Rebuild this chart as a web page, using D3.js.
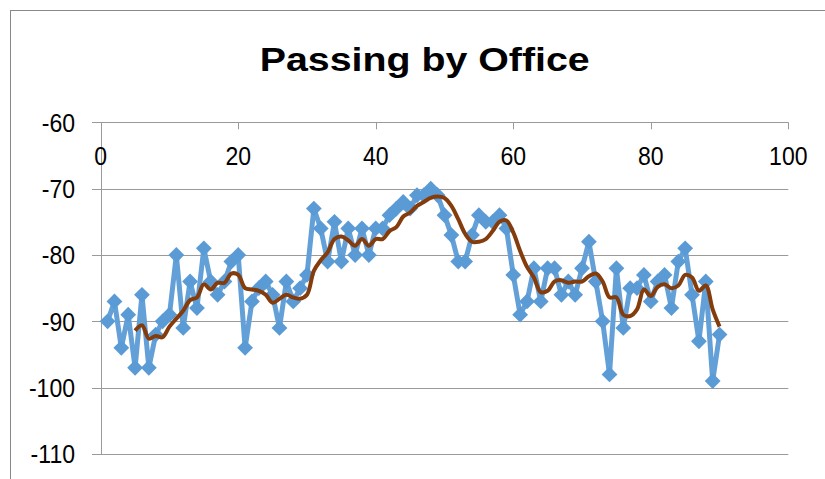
<!DOCTYPE html>
<html><head><meta charset="utf-8">
<script src="https://cdn.jsdelivr.net/npm/d3@7"></script>
<style>body{margin:0;background:#fff}svg{display:block}</style>
</head><body><svg id="c" width="825" height="479"></svg>
<script>
const chartTitle = "Passing by Office";
const officeIndex = [1,2,3,4,5,6,7,8,9,10,11,12,13,14,15,16,17,18,19,20,
  21,22,23,24,25,26,27,28,29,30,31,32,33,34,35,36,37,38,39,40,
  41,42,43,44,45,46,47,48,49,50,51,52,53,54,55,56,57,58,59,60,
  61,62,63,64,65,66,67,68,69,70,71,72,73,74,75,76,77,78,79,80,
  81,82,83,84,85,86,87,88,89,90];
const passingValues = [-90,-87,-94,-89,-97,-86,-97,-92,-90,-89,
  -80,-91,-84,-88,-79,-84,-86,-84,-81,-80,
  -94,-87,-85,-84,-86,-91,-84,-87,-85,-83,
  -73,-76,-81,-75,-81,-76,-80,-76,-80,-76,
  -76,-74,-73,-72,-73,-71,-71,-70,-71,-74,
  -77,-81,-81,-77,-74,-75,-75,-74,-76,-83,
  -89,-87,-82,-87,-82,-82,-86,-84,-86,-82,
  -78,-84,-90,-98,-82,-91,-85,-85,-83,-87,
  -84,-83,-88,-81,-79,-86,-93,-84,-99,-92];
const trendPeriod = 5; // Excel moving-average trendline period
const xTicks = [0,20,40,60,80,100];
const yTicks = [-60,-70,-80,-90,-100,-110];

const svg = d3.select("#c");
const x = d3.scaleLinear().domain([0,100]).range([100.7,788.3]);
const y = d3.scaleLinear().domain([-110,-60]).range([454,122.3]);

// chart border
svg.append("rect").attr("x",10.5).attr("y",10.5).attr("width",900).attr("height",600)
  .attr("fill","#fff").attr("stroke","#898989").attr("stroke-width",1);

// title
svg.append("text").attr("x",424.7).attr("y",71)
  .attr("text-anchor","middle")
  .attr("font-family","Liberation Sans, Arial, sans-serif")
  .attr("font-weight","bold").attr("font-size",34)
  .attr("textLength",330).attr("lengthAdjust","spacingAndGlyphs")
  .attr("fill","#000").text(chartTitle);

const gridColor = "#9a9a9a";
svg.append("g").selectAll("line").data(yTicks).join("line")
  .attr("x1",92).attr("x2",x(100))
  .attr("y1",d=>Math.round(y(d))+0.5).attr("y2",d=>Math.round(y(d))+0.5)
  .attr("stroke",gridColor).attr("stroke-width",1);
svg.append("line").attr("x1",Math.round(x(0))+0.5).attr("x2",Math.round(x(0))+0.5)
  .attr("y1",y(-60)).attr("y2",y(-110)).attr("stroke",gridColor);
svg.append("g").selectAll("line").data(xTicks).join("line")
  .attr("x1",d=>Math.round(x(d))+0.5).attr("x2",d=>Math.round(x(d))+0.5)
  .attr("y1",y(-60)).attr("y2",y(-60)+7)
  .attr("stroke",gridColor);

// y labels (slightly condensed, Calibri-like proportions)
svg.append("g").selectAll("text").data(yTicks).join("text")
  .attr("transform",d=>`translate(75,${y(d)+9.2}) scale(0.94,1.05)`)
  .attr("text-anchor","end")
  .attr("font-family","Liberation Sans, Arial, sans-serif").attr("font-size",24.5)
  .attr("fill","#000").text(d=>d);
// x labels
svg.append("g").selectAll("text").data(xTicks).join("text")
  .attr("transform",d=>`translate(${x(d)},165) scale(0.94,1.05)`)
  .attr("text-anchor","middle")
  .attr("font-family","Liberation Sans, Arial, sans-serif").attr("font-size",24.5)
  .attr("fill","#000").text(d=>d);

const pts = officeIndex.map((o,i)=>({x:o,v:passingValues[i]}));
const blue = "#5b9bd5";
svg.append("path").datum(pts)
  .attr("d",d3.line().x(d=>x(d.x)).y(d=>y(d.v)))
  .attr("fill","none").attr("stroke","#63a0d8").attr("stroke-width",5)
  .attr("stroke-linejoin","round");
svg.append("g").selectAll("path").data(pts).join("path")
  .attr("d",d3.symbol(d3.symbolSquare,125)())
  .attr("transform",d=>`translate(${x(d.x)},${y(d.v)}) rotate(45)`)
  .attr("fill",blue);

// moving average trendline
const ma = [];
for(let i=trendPeriod-1;i<pts.length;i++){
  ma.push({x:pts[i].x, v:d3.mean(pts.slice(i-trendPeriod+1,i+1),d=>d.v)});
}
svg.append("path").datum(ma)
  .attr("d",d3.line().x(d=>x(d.x)).y(d=>y(d.v)).curve(d3.curveCatmullRom.alpha(0.5)))
  .attr("fill","none").attr("stroke","#843c0c").attr("stroke-width",4)
  .attr("stroke-linejoin","round");
</script></body></html>
